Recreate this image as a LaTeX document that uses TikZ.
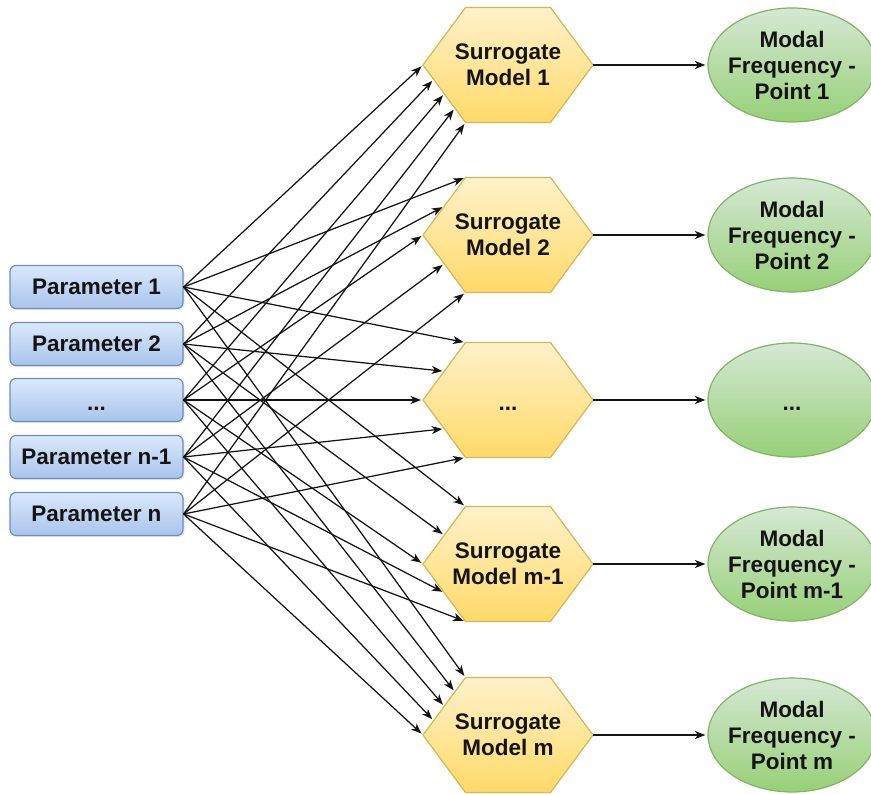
\documentclass[tikz,border=0pt]{standalone}
\usepackage{fontspec}
\setmainfont{Liberation Sans}
\usetikzlibrary{arrows.meta,shapes.geometric,shadows}

\definecolor{parTop}{HTML}{DAE8FC}
\definecolor{parBot}{HTML}{A9C4EB}
\definecolor{parLine}{HTML}{6C8EBF}
\definecolor{hexTop}{HTML}{FFF2CC}
\definecolor{hexBot}{HTML}{FFD966}
\definecolor{hexLine}{HTML}{D6B656}
\definecolor{ellTop}{HTML}{D5E8D4}
\definecolor{ellBot}{HTML}{97D077}
\definecolor{ellLine}{HTML}{82B366}
\definecolor{ink}{HTML}{141414}

% ellipsis placed slightly below the middle, as a text line would sit
\newcommand{\lowdots}{\vphantom{Pg}\smash{\raisebox{-5pt}{...}}}

\begin{document}
\begin{tikzpicture}[x=1pt,y=-1pt,
  every node/.style={font=\bfseries\fontsize{22.5}{26}\selectfont, text=ink,
    align=center, inner sep=0pt},
  param/.style={rectangle, rounded corners=6pt, minimum width=173pt,
    minimum height=43pt, draw=parLine, line width=1.2pt,
    top color=parTop, bottom color=parBot,
    drop shadow={opacity=0.2, shadow xshift=1.5pt, shadow yshift=-1.5pt}},
  hexbox/.style={rectangle, minimum width=174pt, minimum height=119pt,
    path picture={
      \shadedraw[top color=hexTop, bottom color=hexBot, draw=hexLine, line width=1.2pt]
        ([xshift=2pt]path picture bounding box.west) --
        ([xshift=44.5pt,yshift=-2pt]path picture bounding box.north west) --
        ([xshift=-44.5pt,yshift=-2pt]path picture bounding box.north east) --
        ([xshift=-2pt]path picture bounding box.east) --
        ([xshift=-44.5pt,yshift=2pt]path picture bounding box.south east) --
        ([xshift=44.5pt,yshift=2pt]path picture bounding box.south west) -- cycle;}},
  % fixed-size ellipse; its text is set as a centred label so it cannot widen the shape
  modal/.style={ellipse, minimum width=168pt, minimum height=114pt,
    draw=ellLine, line width=1.2pt, top color=ellTop, bottom color=ellBot,
    label={center:#1}},
  link/.style={draw=ink, line width=1.25pt,
    -{Stealth[length=10.5pt,width=8pt,inset=3pt]}, shorten >=2pt},
]
\path[use as bounding box, fill=white] (0,0) rectangle (871,795);

% input parameters
\node[param] (p1) at (96.5,287) {Parameter 1};
\node[param] (p2) at (96.5,344) {Parameter 2};
\node[param] (p3) at (96.5,400) {\lowdots};
\node[param] (p4) at (96.5,457) {Parameter n-1};
\node[param] (p5) at (96.5,514) {Parameter n};

% surrogate models
\node[hexbox] (h1) at (508,65)  {Surrogate\\Model 1};
\node[hexbox] (h2) at (508,235) {Surrogate\\Model 2};
\node[hexbox] (h3) at (508,400) {\lowdots};
\node[hexbox] (h4) at (508,564) {Surrogate\\Model m-1};
\node[hexbox] (h5) at (508,735) {Surrogate\\Model m};

% modal frequency outputs
\node[modal={Modal\\Frequency -\\Point 1}]   (m1) at (792,65)  {};
\node[modal={Modal\\Frequency -\\Point 2}]   (m2) at (792,235) {};
\node[modal={\lowdots}]                      (m3) at (792,400) {};
\node[modal={Modal\\Frequency -\\Point m-1}] (m4) at (792,564) {};
\node[modal={Modal\\Frequency -\\Point m}]   (m5) at (792,735) {};

% docking points on the left side of each hexagon
\foreach \i/\dx/\dy in {1/-85/0, 2/-74.375/14.375, 3/-63.75/28.75,
                        4/-53.125/43.125, 5/-42.5/57.5}
  \coordinate (h1-\i) at ([shift={(\dx,\dy)}]h1.center);
\foreach \h in {2,3,4}
  \foreach \i/\dx/\dy in {1/-42.5/-57.5, 2/-63.75/-28.75, 3/-85/0,
                          4/-63.75/28.75, 5/-42.5/57.5}
    \coordinate (h\h-\i) at ([shift={(\dx,\dy)}]h\h.center);
\foreach \i/\dx/\dy in {1/-42.5/-57.5, 2/-53.125/-43.125, 3/-63.75/-28.75,
                        4/-74.375/-14.375, 5/-85/0}
  \coordinate (h5-\i) at ([shift={(\dx,\dy)}]h5.center);

% every parameter feeds every surrogate model
\foreach \h in {1,...,5}
  \foreach \i in {1,...,5}
    \draw[link] (p\i.east) -- (h\h-\i);

% each model yields one modal frequency
\foreach \h in {1,...,5}
  \draw[link] ([xshift=-2pt]h\h.east) -- (m\h.west);
\end{tikzpicture}
\end{document}
